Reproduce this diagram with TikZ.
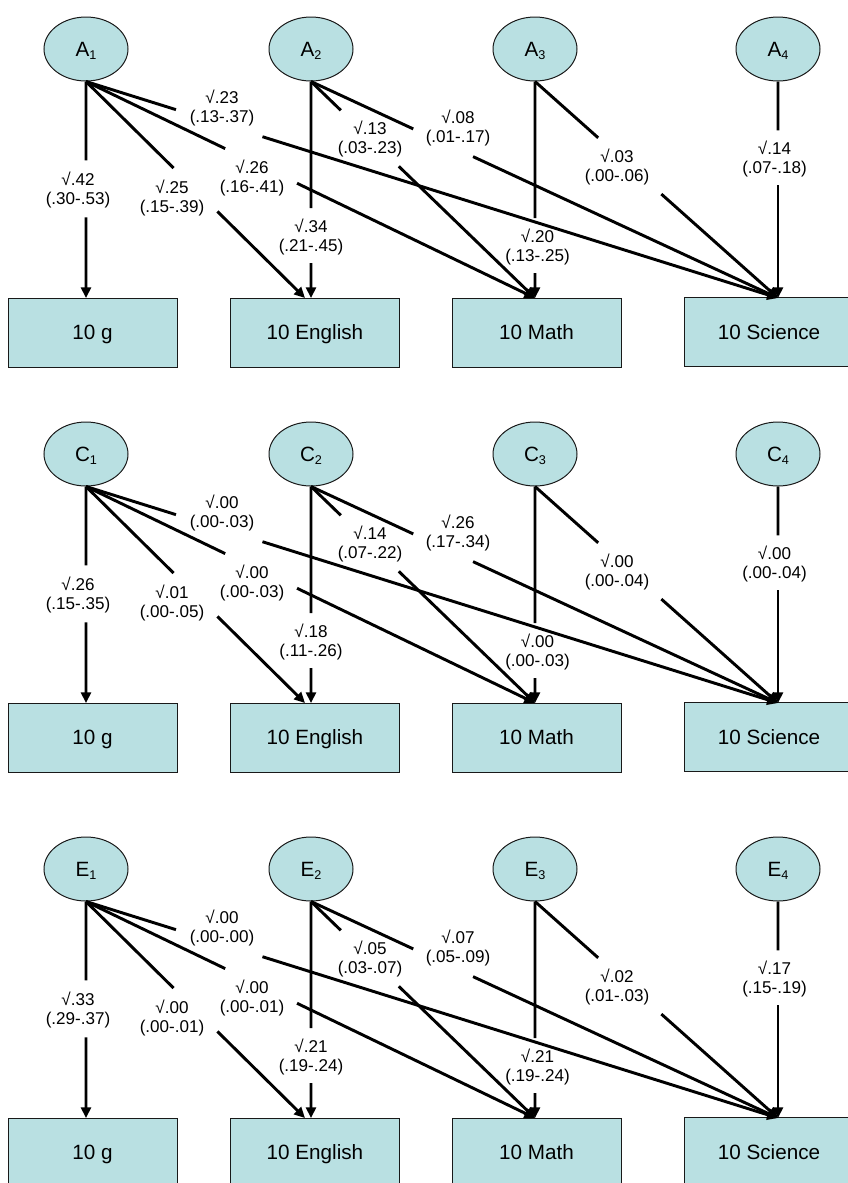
\documentclass[tikz,border=0pt]{standalone}
\usepackage{fontspec}
\setmainfont{Liberation Sans}
\usetikzlibrary{arrows.meta,shapes.geometric,calc}
\definecolor{boxfill}{RGB}{185,224,226}
\definecolor{outl}{RGB}{25,25,25}
\newcommand{\sbs}[1]{\raisebox{-2.5pt}{\fontsize{9.5}{9.5}\selectfont #1}}
\newcommand{\edge}[7]{%
  \draw[edgeline] (#1.south) -- ($(#1.south)!#3!(#2)$);
  \draw[edgeline,-{Triangle[length=8pt,width=7.5pt]}] ($(#1.south)!#4!(#2)$) -- (#2);
  \node[lbl] (#1-#2-lab) at (#5) {√#6\\(#7)};}
\newcommand{\panel}[2]{%
  \begin{scope}[shift={(0,#2)}]
    \node[lat] (#1-1) at (86,49) {#1\sbs{1}};
    \node[lat] (#1-2) at (311,49) {#1\sbs{2}};
    \node[lat] (#1-3) at (535,49) {#1\sbs{3}};
    \node[lat] (#1-4) at (778,49) {#1\sbs{4}};
    \node[obs] (#1-g) at (92.5,332.5) {10 g};
    \node[obs] (#1-e) at (315,332.5) {10 English};
    \node[obs] (#1-m) at (536.5,332.5) {10 Math};
    \node[obs] (#1-s) at (769,332) {10 Science};
    \coordinate (#1-tg) at (86,298);
    \coordinate (#1-te) at (305,298);
    \coordinate (#1-tev) at (311,298);
    \coordinate (#1-tm) at (535,298);
    \coordinate (#1-ts) at (778,298);
  \end{scope}}
\tikzset{
  lat/.style={ellipse, draw=outl, fill=boxfill, line width=0.75pt, minimum width=63pt, minimum height=48pt, inner sep=0pt, text height=11.1pt, text depth=0pt, font=\fontsize{15.5}{18}\selectfont},
  obs/.style={rectangle, draw=outl, fill=boxfill, line width=0.75pt, minimum width=126.75pt, minimum height=51.75pt, inner sep=0pt, text height=11.1pt, text depth=0pt, font=\fontsize{15.5}{18}\selectfont},
  edgeline/.style={draw=black, line width=2.2pt},
  lbl/.style={align=center, inner sep=0pt, font=\fontsize{12.8}{14.3}\selectfont}
}
\begin{document}
\begin{tikzpicture}[x=0.75pt,y=-0.75pt]
\useasboundingbox (0,0) rectangle (848,1183);
\fill[white] (0,0) rectangle (848,1183);
\clip (0,0) rectangle (848,1183);

\panel{A}{0}
\begin{scope}[shift={(0,0)}]
\edge{A-1}{A-tg}{0.364}{0.627}{78,190}{.42}{.30-.53}
\edge{A-1}{A-te}{0.40}{0.60}{172,198}{.25}{.15-.39}
\edge{A-1}{A-tm}{0.31}{0.47}{252,178}{.26}{.16-.41}
\edge{A-1}{A-ts}{0.13}{0.255}{222,108}{.23}{.13-.37}
\edge{A-2}{A-tev}{0.585}{0.839}{311,237}{.34}{.21-.45}
\edge{A-2}{A-tm}{0.133}{0.392}{370,139}{.13}{.03-.23}
\edge{A-2}{A-ts}{0.219}{0.347}{458,128}{.08}{.01-.17}
\edge{A-3}{A-tm}{0.631}{0.885}{537.5,247}{.20}{.13-.25}
\edge{A-3}{A-ts}{0.26}{0.52}{617,167}{.03}{.00-.06}
\edge{A-4}{A-ts}{0.226}{0.479}{774.5,159}{.14}{.07-.18}
\end{scope}

\panel{C}{405}
\begin{scope}[shift={(0,405)}]
\edge{C-1}{C-tg}{0.364}{0.627}{78,190}{.26}{.15-.35}
\edge{C-1}{C-te}{0.40}{0.60}{172,198}{.01}{.00-.05}
\edge{C-1}{C-tm}{0.31}{0.47}{252,178}{.00}{.00-.03}
\edge{C-1}{C-ts}{0.13}{0.255}{222,108}{.00}{.00-.03}
\edge{C-2}{C-tev}{0.585}{0.839}{311,237}{.18}{.11-.26}
\edge{C-2}{C-tm}{0.133}{0.392}{370,139}{.14}{.07-.22}
\edge{C-2}{C-ts}{0.219}{0.347}{458,128}{.26}{.17-.34}
\edge{C-3}{C-tm}{0.631}{0.885}{537.5,247}{.00}{.00-.03}
\edge{C-3}{C-ts}{0.26}{0.52}{617,167}{.00}{.00-.04}
\edge{C-4}{C-ts}{0.226}{0.479}{774.5,159}{.00}{.00-.04}
\end{scope}

\panel{E}{820}
\begin{scope}[shift={(0,820)}]
\edge{E-1}{E-tg}{0.364}{0.627}{78,190}{.33}{.29-.37}
\edge{E-1}{E-te}{0.40}{0.60}{172,198}{.00}{.00-.01}
\edge{E-1}{E-tm}{0.31}{0.47}{252,178}{.00}{.00-.01}
\edge{E-1}{E-ts}{0.13}{0.255}{222,108}{.00}{.00-.00}
\edge{E-2}{E-tev}{0.585}{0.839}{311,237}{.21}{.19-.24}
\edge{E-2}{E-tm}{0.133}{0.392}{370,139}{.05}{.03-.07}
\edge{E-2}{E-ts}{0.219}{0.347}{458,128}{.07}{.05-.09}
\edge{E-3}{E-tm}{0.631}{0.885}{537.5,247}{.21}{.19-.24}
\edge{E-3}{E-ts}{0.26}{0.52}{617,167}{.02}{.01-.03}
\edge{E-4}{E-ts}{0.226}{0.479}{774.5,159}{.17}{.15-.19}
\end{scope}
\end{tikzpicture}
\end{document}
